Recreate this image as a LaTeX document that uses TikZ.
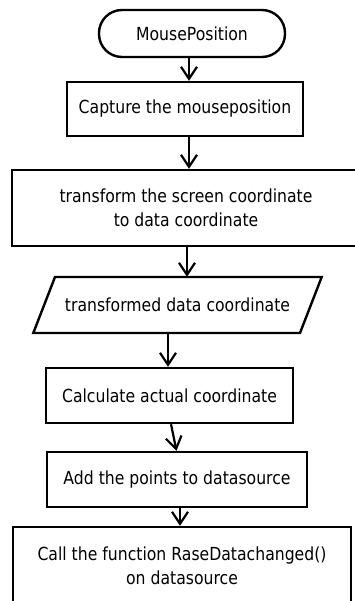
\documentclass[tikz,border=0pt]{standalone}
\usepackage{fontspec}
\setmainfont{DejaVu Sans}[FakeStretch=0.87]
\usetikzlibrary{arrows.meta}
\begin{document}
\begin{tikzpicture}[x=1pt,y=-1pt,
  box/.style={draw, line width=2.4pt, rectangle, inner sep=0pt, align=center,
    font=\fontsize{18}{24}\selectfont, text=black},
  termbox/.style={box, rounded corners=23pt},
  txt/.style={inner sep=0pt, align=center, font=\fontsize{18}{24}\selectfont, text=black},
  arr/.style={line width=2.2pt, -{Straight Barb[length=12pt,width=16pt]}}]
\useasboundingbox (0,0) rectangle (355,601);
\node[termbox, minimum width=186pt, minimum height=47pt] (term) at (192,33.5) {MousePosition};
\node[box, minimum width=236pt, minimum height=54pt] (cap) at (185,109) {Capture the mouseposition};
\node[box, minimum width=348pt, minimum height=76pt] (trans) at (186,208) {transform the screen coordinate\\to data coordinate};
\draw[line width=2.4pt] (55,277) -- (321.7,277) -- (300,333) -- (33.3,333) -- cycle;
\node[txt, minimum width=240pt, minimum height=56pt] (para) at (177.5,305) {transformed data coordinate};
\node[box, minimum width=247pt, minimum height=55pt] (calc) at (169.5,395.5) {Calculate actual coordinate};
\node[box, minimum width=260pt, minimum height=55pt] (add) at (177,479.5) {Add the points to datasource};
\node[box, minimum width=338pt, minimum height=78pt] (call) at (182,566) {Call the function RaseDatachanged()\\on datasource};
\draw[arr] (term.south -| 189,0) -- (cap.north -| 189,0);
\draw[arr] (cap.south -| 189,0) -- (trans.north -| 189,0);
\draw[arr] (trans.south -| 187,0) -- (para.north -| 187,0);
\draw[arr] (para.south -| 168,0) -- (calc.north -| 168,0);
\draw[arr] (calc.south -| 171,0) -- (add.north -| 176.5,0);
\draw[arr] (add.south -| 180,0) -- (call.north -| 180,0);
\end{tikzpicture}
\end{document}
